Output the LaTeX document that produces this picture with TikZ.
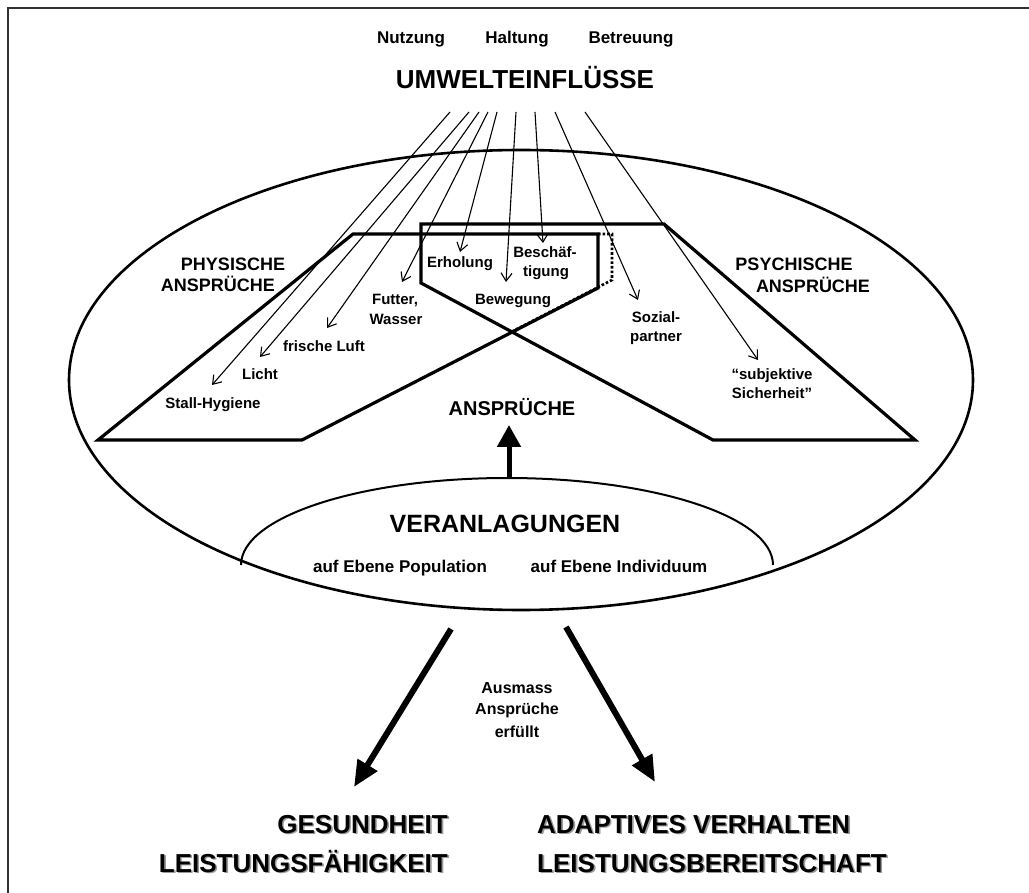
\documentclass[tikz,border=0pt]{standalone}
\usepackage{fontspec}
\setmainfont{Liberation Sans}
\usetikzlibrary{arrows.meta}
\newcommand\shtext[1]{\makebox[0pt][l]{\kern1.6pt\raisebox{-1.6pt}{\textcolor{black!40}{#1}}}#1}
\begin{document}
\begin{tikzpicture}[x=1pt,y=-1pt,
  lab/.style={font=\fontsize{15}{17}\selectfont\bfseries, inner sep=0pt, anchor=base},
  mid/.style={font=\fontsize{18}{20}\selectfont\bfseries, inner sep=0pt, anchor=base},
  toplab/.style={font=\fontsize{17}{19}\selectfont\bfseries, inner sep=0pt, anchor=base},
  note/.style={font=\fontsize{16}{18}\selectfont\bfseries, inner sep=0pt, anchor=base},
  head/.style={font=\fontsize{26}{28}\selectfont\bfseries, inner sep=0pt, anchor=base},
  outline/.style={line width=3.2pt, line join=miter},
  thinarrow/.style={line width=1.1pt, -{Straight Barb[length=8pt,width=11pt,line width=1.1pt]}},
  fatarrow/.style={line width=6pt, -{Triangle[length=26pt,width=22pt]}},
]
\useasboundingbox (0,0) rectangle (1029,893);
% frame (top and left edges)
\draw[line width=2pt, black!80] (7.5,893) -- (7.5,8.5) -- (1029,8.5);

% big ellipse
\draw[line width=2.6pt] (521,380) ellipse [x radius=452, y radius=230];
% small half ellipse
\draw[line width=2pt] (241,565) arc[start angle=180, end angle=360, x radius=266, y radius=87];
\coordinate (vtop) at (509,478);

% left and right shapes
\draw[outline] (98,440) -- (353,234) -- (598,234) -- (598,288) -- (302,440) -- cycle;
\draw[outline] (915,440) -- (664,224) -- (421,224) -- (421,283) -- (713,440) -- cycle;
\draw[line width=2.6pt, dotted] (598,234) -- (612,234) -- (612,280) -- (513,331);

% top texts
\node[toplab] (nutz) at (411,44) {Nutzung};
\node[toplab] (halt) at (517,44) {Haltung};
\node[toplab] (betr) at (631,44) {Betreuung};
\node[head] (umw) at (525,89) {UMWELTEINFLÜSSE};

% arrow starts and tips
\coordinate (s1) at (450,112); \coordinate (t1) at (212,385);
\coordinate (s2) at (469,112); \coordinate (t2) at (260,357);
\coordinate (s3) at (479,112); \coordinate (t3) at (327,328);
\coordinate (s4) at (488,112); \coordinate (t4) at (402,282);
\coordinate (s5) at (497,112); \coordinate (t5) at (460,252);
\coordinate (s6) at (516,112); \coordinate (t6) at (506,282);
\coordinate (s7) at (535,112); \coordinate (t7) at (543,243);
\coordinate (s8) at (555,112); \coordinate (t8) at (638,300);
\coordinate (s9) at (585,112); \coordinate (t9) at (758,360);
\foreach \i in {1,...,9} \draw[thinarrow] (s\i) -- (t\i);

% labels
\node[mid] (phys1) at (233,271) {PHYSISCHE};
\node[mid] (phys2) at (218,292) {ANSPRÜCHE};
\node[mid] (psy1) at (794,271) {PSYCHISCHE};
\node[mid] (psy2) at (813,293) {ANSPRÜCHE};
\node[lab] (stall) at (213,409) {Stall-Hygiene};
\node[lab] (licht) at (260,380) {Licht};
\node[lab] (luft) at (324,352) {frische Luft};
\node[lab] (futter) at (395,305) {Futter,};
\node[lab] (wasser) at (396,325) {Wasser};
\node[lab] (erh) at (460,268) {Erholung};
\node[lab] (besch1) at (545,258) {Beschäf-};
\node[lab] (besch2) at (546,277) {tigung};
\node[lab] (beweg) at (513,305) {Bewegung};
\node[lab] (soz1) at (656,323) {Sozial-};
\node[lab] (soz2) at (656,342) {partner};
\node[lab] (subj1) at (772,380) {“subjektive};
\node[lab] (subj2) at (772,399) {Sicherheit”};

\node[font=\fontsize{20}{22}\selectfont\bfseries, inner sep=0pt, anchor=base] (anspr) at (512,416) {ANSPRÜCHE};
\coordinate (atip) at (509,425);
\draw[line width=5pt, -{Triangle[length=22pt,width=23pt]}] (vtop) -- (atip);

\node[head, font=\fontsize{25}{27}\selectfont\bfseries] (veran) at (505,532) {VERANLAGUNGEN};
\node[toplab] (pop) at (400,572) {auf Ebene Population};
\node[toplab] (ind) at (619,572) {auf Ebene Individuum};

% bottom arrows
\coordinate (bl0) at (451,629); \coordinate (bl1) at (354,787);
\coordinate (br0) at (566,627); \coordinate (br1) at (655,782);
\draw[fatarrow] (bl0) -- (bl1);
\draw[fatarrow] (br0) -- (br1);

\node[note] (aus1) at (517,693) {Ausmass};
\node[note] (aus2) at (517,714) {Ansprüche};
\node[note] (aus3) at (517,737) {erfüllt};

\node[head, anchor=base east] (ges) at (448,833) {\shtext{GESUNDHEIT}};
\node[head, anchor=base east] (lf) at (448,872) {\shtext{LEISTUNGSFÄHIGKEIT}};
\node[head, anchor=base west] (adap) at (537,833) {\shtext{ADAPTIVES VERHALTEN}};
\node[head, anchor=base west] (lb) at (537,872) {\shtext{LEISTUNGSBEREITSCHAFT}};
\end{tikzpicture}
\end{document}
